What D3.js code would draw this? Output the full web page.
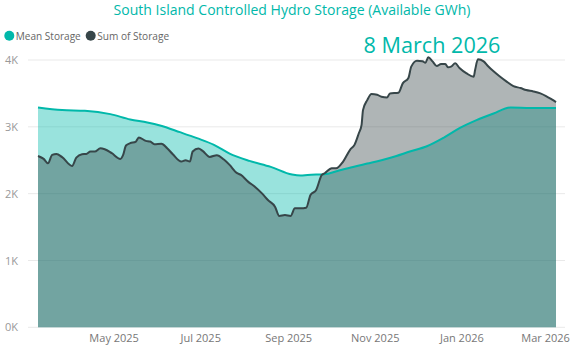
<!DOCTYPE html>
<html>
<head>
<meta charset="utf-8">
<script src="https://cdn.jsdelivr.net/npm/d3@7/dist/d3.min.js"></script>
<style>
  html, body { margin: 0; padding: 0; background: #fff; }
  svg { display: block; font-family: "Open Sans", "Noto Sans", sans-serif; }
</style>
</head>
<body>
<svg id="chart" width="575" height="353"></svg>
<script>
// ---- Data ----
const titleText = "South Island Controlled Hydro Storage (Available GWh)";
const dateText = "8 March 2026";
const seriesNames = ["Mean Storage", "Sum of Storage"];
const seriesColors = ["#01B8AA", "#374649"];

const sumDates = [
  "2025-03-08","2025-03-12","2025-03-15","2025-03-18","2025-03-21","2025-03-25","2025-04-01","2025-04-04",
  "2025-04-08","2025-04-11","2025-04-14","2025-04-17","2025-04-21","2025-04-24","2025-04-29","2025-05-05",
  "2025-05-07","2025-05-09","2025-05-12","2025-05-16","2025-05-18","2025-05-23","2025-05-26","2025-05-29",
  "2025-06-03","2025-06-07","2025-06-11","2025-06-17","2025-06-20","2025-06-23","2025-06-25","2025-06-29",
  "2025-07-02","2025-07-07","2025-07-12","2025-07-17","2025-07-21","2025-07-26","2025-07-29","2025-08-03",
  "2025-08-08","2025-08-13","2025-08-17","2025-08-22","2025-08-25","2025-08-29","2025-09-02","2025-09-05",
  "2025-09-09","2025-09-13","2025-09-16","2025-09-20","2025-09-24","2025-09-26","2025-10-01","2025-10-04",
  "2025-10-09","2025-10-14","2025-10-17","2025-10-20","2025-10-22","2025-10-23","2025-10-26","2025-10-29",
  "2025-11-02","2025-11-05","2025-11-09","2025-11-11","2025-11-17","2025-11-20","2025-11-24","2025-11-26",
  "2025-11-30","2025-12-04","2025-12-06","2025-12-08","2025-12-11","2025-12-14","2025-12-17","2025-12-20",
  "2025-12-22","2025-12-24","2025-12-27","2025-12-30","2026-01-04","2026-01-09","2026-01-10","2026-01-12",
  "2026-01-16","2026-01-19","2026-01-23","2026-01-27","2026-02-01","2026-02-06","2026-02-11","2026-02-15",
  "2026-02-20","2026-02-25","2026-03-01","2026-03-05","2026-03-08"
];
const sumValues = [
  2564,2520,2455,2580,2594,2546,2415,2540,
  2590,2594,2630,2630,2680,2665,2605,2520,
  2580,2720,2755,2780,2840,2790,2780,2740,
  2745,2680,2590,2480,2500,2480,2630,2675,
  2640,2550,2575,2510,2430,2310,2280,2180,
  2100,2000,1905,1805,1666,1680,1666,1780,
  1780,1790,1980,2055,2280,2305,2380,2380,
  2480,2660,2730,2900,3030,3250,3400,3490,
  3480,3450,3440,3500,3510,3650,3730,3900,
  3990,3980,3960,4040,3980,3910,3940,3940,
  3890,3900,3950,3880,3800,3750,3850,4010,
  3980,3910,3830,3760,3680,3610,3580,3550,
  3530,3500,3460,3410,3370
];

const meanDates = [
  "2025-03-08","2025-03-25","2025-04-10","2025-04-28","2025-05-12","2025-05-24","2025-06-02","2025-06-16",
  "2025-06-28","2025-07-10","2025-07-21","2025-08-04","2025-08-19","2025-09-03","2025-09-09","2025-09-14",
  "2025-09-26","2025-10-05","2025-10-16","2025-10-26","2025-11-05","2025-11-15","2025-11-25","2025-12-07",
  "2025-12-19","2025-12-30","2026-01-11","2026-01-23","2026-02-04","2026-02-18","2026-03-08"
];
const meanValues = [
  3290,3250,3240,3190,3110,3065,3020,2920,
  2830,2730,2600,2490,2400,2285,2270,2280,
  2290,2340,2400,2450,2500,2560,2630,2710,
  2840,2980,3100,3200,3290,3280,3280
];

const yTicks = [0, 1000, 2000, 3000, 4000];
const yTickLabels = ["0K", "1K", "2K", "3K", "4K"];
const xTicks = ["2025-05-01","2025-07-01","2025-09-01","2025-11-01","2026-01-01","2026-03-01"];
const xTickLabels = ["May 2025","Jul 2025","Sep 2025","Nov 2025","Jan 2026","Mar 2026"];

// ---- Chart ----
const parse = d3.timeParse("%Y-%m-%d");
const sumData = sumDates.map((d, i) => ({ date: parse(d), value: sumValues[i] }));
const meanData = meanDates.map((d, i) => ({ date: parse(d), value: meanValues[i] }));

const svg = d3.select("#chart");

const x = d3.scaleTime()
  .domain([parse("2025-03-08"), parse("2026-03-08")])
  .range([38, 556]);
const y = d3.scaleLinear().domain([0, 4000]).range([327.3, 60]);

// gridlines
svg.append("g").selectAll("line").data(yTicks).join("line")
  .attr("x1", 28).attr("x2", 565)
  .attr("y1", d => y(d)).attr("y2", d => y(d))
  .attr("stroke", "#E9E9E9").attr("stroke-width", 1);

// y axis labels
const yAxis = d3.axisLeft(y).tickValues(yTicks)
  .tickFormat((d, i) => yTickLabels[i]).tickSize(0).tickPadding(0);
const gy = svg.append("g").attr("transform", "translate(18,0)").call(yAxis);
gy.select(".domain").remove();
gy.selectAll("text").attr("fill", "#999").style("font-size", "11px")
  .style("font-family", "'Open Sans', 'Noto Sans', sans-serif");

// x axis labels
const xAxis = d3.axisBottom(x).tickValues(xTicks.map(parse))
  .tickFormat((d, i) => xTickLabels[i]).tickSize(0).tickPadding(0);
const gx = svg.append("g").attr("transform", "translate(-1,334)").call(xAxis);
gx.select(".domain").remove();
gx.selectAll("text").attr("fill", "#777").style("font-size", "11px")
  .style("font-family", "'Open Sans', 'Noto Sans', sans-serif");

const curve = d3.curveMonotoneX;
const area = d3.area().x(d => x(d.date)).y0(y(0)).y1(d => y(d.value)).curve(curve);
const line = d3.line().x(d => x(d.date)).y(d => y(d.value)).curve(curve);

svg.append("path").datum(meanData).attr("d", area)
  .attr("fill", seriesColors[0]).attr("fill-opacity", 0.4);
svg.append("path").datum(sumData).attr("d", area)
  .attr("fill", seriesColors[1]).attr("fill-opacity", 0.4);

svg.append("path").datum(meanData).attr("d", line)
  .attr("fill", "none").attr("stroke", seriesColors[0]).attr("stroke-width", 2);
svg.append("path").datum(sumData).attr("d", line)
  .attr("fill", "none").attr("stroke", seriesColors[1]).attr("stroke-width", 2)
  .attr("stroke-linejoin", "round");

// title
function fitText(sel, targetWidth, baseSize) {
  sel.style("font-size", baseSize + "px");
  const w = sel.node().getComputedTextLength();
  sel.style("font-size", (baseSize * targetWidth / w).toFixed(2) + "px");
}
const title = svg.append("text").attr("x", 292).attr("y", 14.5)
  .attr("text-anchor", "middle").attr("fill", "#01B8AA")
  .text(titleText);
fitText(title, 357, 14);

const dt = svg.append("text").attr("x", 432).attr("y", 53)
  .attr("text-anchor", "middle").attr("fill", "#01B8AA")
  .text(dateText);
fitText(dt, 137, 26);

// legend
const legendX = [9.3, 90.7];
const lg = svg.append("g");
seriesNames.forEach((name, i) => {
  lg.append("circle").attr("cx", legendX[i]).attr("cy", 35.7).attr("r", 5)
    .attr("fill", seriesColors[i]);
  const t = lg.append("text").attr("x", legendX[i] + 6.5).attr("y", 39.5)
    .attr("fill", "#666").text(name);
  fitText(t, i === 0 ? 65 : 72, 11);
});
</script>
</body>
</html>
